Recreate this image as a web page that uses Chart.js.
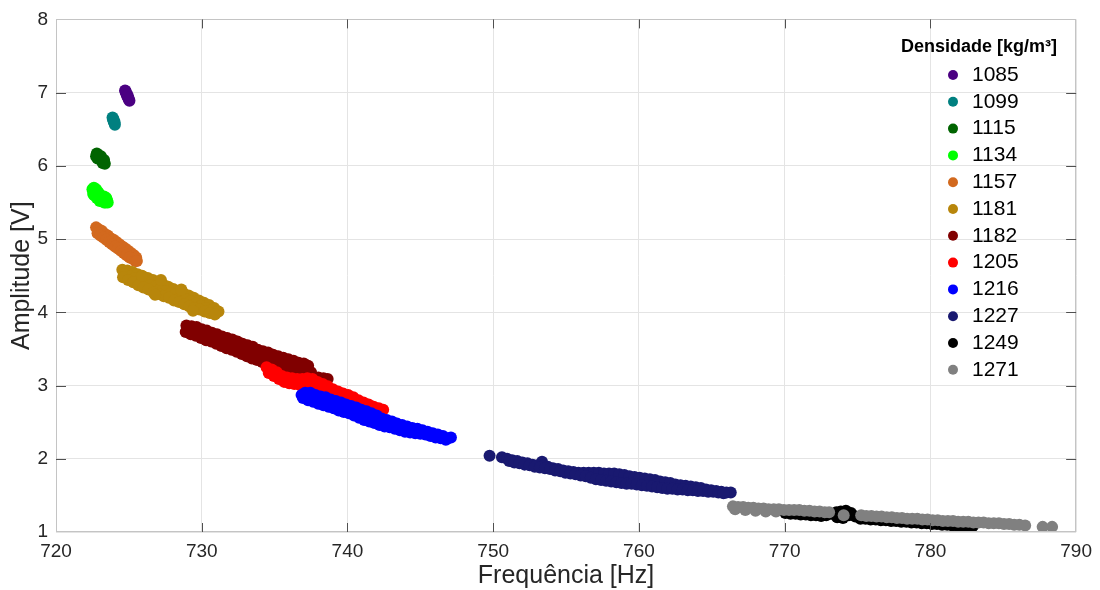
<!DOCTYPE html>
<html lang="pt">
<head>
<meta charset="utf-8">
<title>Amplitude x Frequência</title>
<script src="https://cdn.jsdelivr.net/npm/chart.js@4.4.1/dist/chart.umd.min.js"></script>
<style>
  html, body { margin: 0; padding: 0; background: #ffffff; }
  #wrap { width: 1100px; height: 590px; position: relative; }
</style>
</head>
<body>
<div id="wrap"><canvas id="c" width="1100" height="590"></canvas></div>
<script>
// Densidades medidas (kg/m³) e cores de cada série
const densities = [1085, 1099, 1115, 1134, 1157, 1181, 1182, 1205, 1216, 1227, 1249, 1271];
const colors = ['#4b0082', '#008080', '#006400', '#00ff00', '#d2691e', '#b8860b',
                '#800000', '#ff0000', '#0000ff', '#191970', '#000000', '#808080'];

// Eixos
const xTickValues = [720, 730, 740, 750, 760, 770, 780, 790];
const yTickValues = [1, 2, 3, 4, 5, 6, 7, 8];
const xTitle = 'Frequência [Hz]';
const yTitle = 'Amplitude [V]';
const legendTitle = 'Densidade [kg/m³]';

// Pontos [frequência (Hz), amplitude (V)] de cada densidade
const pts1085 = [[724.74,7.03],[724.78,7.02],[724.80,7.00],[724.85,6.97],[724.90,6.95],[724.92,6.96],
  [724.95,6.93],[725.00,6.91],[725.04,6.89]];
const pts1099 = [[723.88,6.66],[723.92,6.63],[723.94,6.64],[723.96,6.61],[724.00,6.59],[724.02,6.60],[724.04,6.56]];
const pts1115 = [[722.80,6.17],[722.88,6.15],[722.90,6.12],[722.95,6.14],[723.02,6.12],[723.08,6.13],
  [723.10,6.09],[723.18,6.07],[723.20,6.04],[723.26,6.05],[723.35,6.03],[722.85,6.10],[723.30,6.08],[722.75,6.13]];
const pts1134 = [[722.50,5.68],[722.58,5.66],[722.60,5.70],[722.66,5.64],[722.62,5.60],[722.74,5.62],
  [722.75,5.68],[722.80,5.56],[722.82,5.60],[722.90,5.58],[722.90,5.64],[722.98,5.56],[723.00,5.52],
  [723.05,5.60],[723.06,5.55],[723.14,5.53],[723.20,5.57],[723.22,5.52],[723.30,5.50],[723.40,5.50],
  [723.50,5.53],[723.45,5.56],[723.30,5.58],[722.55,5.62],[723.55,5.50]];
const pts1157 = [[722.75,5.16],[722.95,5.13],[723.15,5.11],[723.35,5.07],[723.55,5.05],[723.75,5.01],
  [723.95,4.99],[724.15,4.96],[724.35,4.93],[724.55,4.90],[724.75,4.87],[724.95,4.84],[725.15,4.81],
  [725.35,4.78],[725.50,4.75],[722.85,5.08],[723.05,5.05],[723.25,5.02],[723.45,4.99],[723.65,4.96],
  [723.85,4.93],[724.05,4.90],[724.25,4.87],[724.45,4.84],[724.65,4.81],[724.85,4.78],[725.05,4.75],
  [725.25,4.73],[725.45,4.70],[725.55,4.70]];
const pts1181 = [[724.55,4.58],[724.90,4.57],[725.25,4.55],[725.60,4.52],[725.95,4.49],[726.30,4.47],
  [726.65,4.44],[727.00,4.41],[727.35,4.38],[727.70,4.35],[728.05,4.32],[728.40,4.29],[728.75,4.26],
  [729.10,4.23],[729.45,4.20],[729.80,4.16],[730.15,4.13],[730.50,4.10],[730.85,4.06],[731.15,4.01],
  [724.70,4.52],[725.05,4.49],[725.40,4.47],[725.75,4.43],[726.10,4.41],[726.45,4.37],[726.80,4.35],
  [727.15,4.32],[727.50,4.29],[727.85,4.26],[728.20,4.24],[728.55,4.20],[728.90,4.18],[729.25,4.15],
  [729.60,4.12],[729.95,4.09],[730.30,4.06],[730.65,4.03],[731.00,4.00],
  [724.60,4.48],[724.95,4.44],[725.30,4.41],[725.65,4.37],[726.00,4.34],[726.35,4.31],[726.70,4.27],
  [727.05,4.25],[727.40,4.22],[727.75,4.20],[728.10,4.16],[728.45,4.14],[728.80,4.11],[729.15,4.08],
  [729.50,4.06],[729.85,4.04],[730.20,4.01],[730.55,3.99],[730.90,3.97],
  [725.90,4.50],[727.20,4.44],[728.60,4.31],[726.80,4.24],[729.40,4.02]];
const pts1182 = [[728.95,3.82],[729.30,3.81],[729.65,3.80],[730.00,3.77],[730.35,3.75],[730.70,3.72],
  [731.05,3.70],[731.40,3.67],[731.75,3.65],[732.10,3.63],[732.45,3.60],[732.80,3.57],[733.15,3.55],
  [733.50,3.53],[733.85,3.49],[734.20,3.47],[734.55,3.45],[734.90,3.42],[735.25,3.40],[735.60,3.38],
  [735.95,3.36],[736.30,3.34],[736.65,3.31],[737.00,3.30],[737.30,3.27],
  [729.10,3.76],[729.45,3.74],[729.80,3.71],[730.15,3.69],[730.50,3.66],[730.85,3.64],[731.20,3.61],
  [731.55,3.59],[731.90,3.56],[732.25,3.54],[732.60,3.51],[732.95,3.49],[733.30,3.46],[733.65,3.44],
  [734.00,3.41],[734.35,3.39],[734.70,3.36],[735.05,3.34],[735.40,3.31],[735.75,3.29],[736.10,3.27],
  [736.45,3.25],[736.80,3.22],[737.15,3.20],[737.50,3.18],
  [728.90,3.73],[729.25,3.70],[729.60,3.68],[729.95,3.65],[730.30,3.62],[730.65,3.60],[731.00,3.57],
  [731.35,3.54],[731.70,3.51],[732.05,3.49],[732.40,3.46],[732.75,3.43],[733.10,3.40],[733.45,3.37],
  [733.80,3.35],[734.15,3.32],[734.50,3.30],[734.85,3.27],[735.20,3.25],[735.55,3.23],[735.90,3.20],
  [736.25,3.18],[736.60,3.16],[736.95,3.14],[737.30,3.13],[737.65,3.12],[738.00,3.11],[738.35,3.10],[738.64,3.09]];
const pts1205 = [[734.45,3.25],[734.80,3.22],[735.15,3.18],[735.50,3.13],[735.85,3.11],[736.20,3.10],
  [736.55,3.09],[736.90,3.09],[737.25,3.10],[737.60,3.09],[737.95,3.05],[738.30,3.02],[738.65,2.99],
  [739.00,2.95],[739.35,2.92],[739.70,2.89],[740.05,2.87],[740.40,2.84],[740.75,2.80],[741.10,2.77],
  [741.45,2.74],[741.80,2.71],[742.15,2.69],[742.45,2.67],
  [734.60,3.17],[734.95,3.13],[735.30,3.09],[735.65,3.05],[736.00,3.03],[736.35,3.02],[736.70,3.01],
  [737.05,3.00],[737.40,2.99],[737.75,2.97],[738.10,2.94],[738.45,2.91],[738.80,2.88],[739.15,2.86],
  [739.50,2.83],[739.85,2.80],[740.20,2.78],[740.55,2.75],[740.90,2.72],[741.25,2.70],[741.60,2.67],[741.95,2.65]];
const pts1216 = [[736.85,2.87],[737.10,2.90],[737.45,2.90],[737.80,2.87],[738.15,2.85],[738.50,2.84],
  [738.85,2.81],[739.20,2.79],[739.55,2.77],[739.90,2.74],[740.25,2.72],[740.60,2.70],[740.95,2.67],
  [741.30,2.65],[741.65,2.62],[742.00,2.59],[742.35,2.55],[742.70,2.53],[743.05,2.51],[743.40,2.48],
  [743.75,2.46],[744.10,2.44],[744.45,2.42],[744.80,2.41],[745.15,2.39],[745.50,2.37],[745.85,2.35],
  [746.20,2.33],[746.55,2.31],[746.90,2.28],[747.10,2.29],
  [736.95,2.83],[737.30,2.80],[737.65,2.78],[738.00,2.75],[738.35,2.73],[738.70,2.71],[739.05,2.69],
  [739.40,2.66],[739.75,2.64],[740.10,2.62],[740.45,2.59],[740.80,2.56],[741.15,2.53],[741.50,2.51],
  [741.85,2.49],[742.20,2.46],[742.55,2.44],[742.90,2.43],[743.25,2.41],[743.60,2.39],[743.95,2.37],
  [744.30,2.36],[744.65,2.35],[745.00,2.34],[745.35,2.33],[745.70,2.31],[746.05,2.29],[746.40,2.28],[746.75,2.26]];
const pts1227 = [[749.75,2.04],[753.35,1.96],
  [750.60,2.02],[750.95,2.00],[751.30,1.98],[751.65,1.97],[752.00,1.95],[752.35,1.94],[752.70,1.92],
  [753.05,1.91],[753.40,1.90],[753.75,1.89],[754.10,1.87],[754.45,1.86],[754.80,1.84],[755.15,1.83],
  [755.50,1.82],[755.85,1.81],[756.20,1.81],[756.55,1.81],[756.90,1.81],[757.25,1.81],[757.60,1.80],
  [757.95,1.80],[758.30,1.80],[758.65,1.79],[759.00,1.78],[759.35,1.76],[759.70,1.75],[760.05,1.74],
  [760.40,1.73],[760.75,1.72],[761.10,1.71],[761.45,1.69],[761.80,1.68],[762.15,1.67],[762.50,1.65],
  [762.85,1.64],[763.20,1.63],[763.55,1.62],[763.90,1.61],[764.25,1.60],[764.60,1.58],[764.95,1.57],
  [765.30,1.56],[765.65,1.55],[766.00,1.54],[766.30,1.54],
  [751.10,1.97],[751.45,1.95],[751.80,1.94],[752.15,1.92],[752.50,1.91],[752.85,1.89],[753.20,1.88],
  [753.55,1.87],[753.90,1.86],[754.25,1.84],[754.60,1.83],[754.95,1.81],[755.30,1.80],[755.65,1.79],
  [756.00,1.77],[756.35,1.76],[756.70,1.74],[757.05,1.72],[757.40,1.71],[757.75,1.70],[758.10,1.69],
  [758.45,1.68],[758.80,1.67],[759.15,1.66],[759.50,1.66],[759.85,1.65],[760.20,1.64],[760.55,1.63],
  [760.90,1.62],[761.25,1.61],[761.60,1.60],[761.95,1.59],[762.30,1.59],[762.65,1.58],[763.00,1.58],
  [763.35,1.57],[763.70,1.57],[764.05,1.56],[764.40,1.56],[764.75,1.55],[765.10,1.55],[765.45,1.54],[765.80,1.53]];
const pts1249 = [[770.05,1.26],[770.40,1.25],[770.75,1.25],[771.10,1.24],[771.45,1.24],[771.80,1.23],
  [772.15,1.23],[772.50,1.22],[772.85,1.23],[773.20,1.25],[773.55,1.27],[773.85,1.28],[774.20,1.29],
  [774.55,1.26],[774.85,1.21],[773.60,1.20],[774.00,1.19],[774.40,1.23],[775.20,1.18],[775.55,1.18],
  [775.90,1.17],[776.25,1.17],[776.60,1.16],[776.95,1.16],[777.30,1.15],[777.65,1.15],[778.00,1.14],
  [778.35,1.14],[778.70,1.13],[779.05,1.13],[779.40,1.12],[779.75,1.12],[780.10,1.11],[780.45,1.11],
  [780.80,1.10],[781.15,1.10],[781.50,1.09],[781.85,1.09],[782.20,1.08],[782.55,1.08],[782.90,1.08]];
const pts1271 = [[766.45,1.35],[766.80,1.34],[767.15,1.34],[767.50,1.33],[767.85,1.33],[768.20,1.32],
  [768.55,1.32],[768.90,1.31],[769.25,1.31],[769.60,1.31],[769.95,1.30],[770.30,1.30],[770.65,1.30],
  [771.00,1.30],[771.35,1.29],[771.70,1.29],[772.05,1.28],[772.40,1.28],[772.75,1.27],[773.05,1.27],
  [774.05,1.23],[775.25,1.23],[775.60,1.22],[775.95,1.22],[776.30,1.21],[776.65,1.21],[777.00,1.20],
  [777.35,1.20],[777.70,1.19],[778.05,1.19],[778.40,1.18],[778.75,1.18],[779.10,1.18],[779.45,1.17],
  [779.80,1.17],[780.15,1.16],[780.50,1.16],[780.85,1.15],[781.20,1.15],[781.55,1.15],[781.90,1.14],
  [782.25,1.14],[782.60,1.14],[782.95,1.13],[783.30,1.13],[783.65,1.13],[784.00,1.12],[784.35,1.12],
  [784.70,1.12],[785.05,1.11],[785.40,1.11],[785.75,1.10],[786.10,1.10],[786.50,1.09],[787.70,1.07],
  [788.35,1.07],[766.60,1.31],[767.30,1.30],[768.00,1.29],[768.70,1.28],[769.40,1.28]];

const series = [pts1085, pts1099, pts1115, pts1134, pts1157, pts1181,
                pts1182, pts1205, pts1216, pts1227, pts1249, pts1271];

const FONT = '"Liberation Sans", Arial, Helvetica, sans-serif';

// Moldura da área do gráfico com marcas de escala para dentro (nos quatro lados)
const boxFrame = {
  id: 'boxFrame',
  afterDatasetsDraw(chart) {
    const { ctx: c, chartArea: a, scales: { x, y } } = chart;
    c.save();
    c.lineWidth = 1;
    c.strokeStyle = '#c4c4c4';
    c.strokeRect(Math.round(a.left) + 0.5, Math.round(a.top) + 0.5,
                 Math.round(a.right - a.left) - 1, Math.round(a.bottom - a.top) - 1);
    c.strokeStyle = '#505050';
    c.beginPath();
    x.ticks.forEach(t => {
      if (t.value <= x.min || t.value >= x.max) return;
      const px = Math.round(x.getPixelForValue(t.value)) + 0.5;
      c.moveTo(px, a.bottom); c.lineTo(px, a.bottom - 9);
      c.moveTo(px, a.top); c.lineTo(px, a.top + 9);
    });
    y.ticks.forEach(t => {
      if (t.value <= y.min || t.value >= y.max) return;
      const py = Math.round(y.getPixelForValue(t.value)) + 0.5;
      c.moveTo(a.left, py); c.lineTo(a.left + 10, py);
      c.moveTo(a.right, py); c.lineTo(a.right - 10, py);
    });
    c.stroke();
    c.restore();
  }
};

// Legenda em coluna no canto superior direito, sem caixa
const legendLayout = { titleX: 1057, titleY: 47, markerX: 953, textX: 972, firstY: 75, step: 26.8 };
const densityLegend = {
  id: 'densityLegend',
  afterDraw(chart) {
    const c = chart.ctx;
    const L = legendLayout;
    c.save();
    c.textBaseline = 'middle';
    c.fillStyle = '#000000';
    c.textAlign = 'right';
    c.font = 'bold 18px ' + FONT;
    c.fillText(legendTitle, L.titleX, L.titleY);
    c.textAlign = 'left';
    c.font = '21px ' + FONT;
    chart.data.datasets.forEach((ds, i) => {
      const yy = L.firstY + i * L.step;
      c.beginPath();
      c.arc(L.markerX, yy, 5, 0, Math.PI * 2);
      c.fillStyle = ds.backgroundColor;
      c.fill();
      c.fillStyle = '#000000';
      c.fillText(ds.label, L.textX, yy);
    });
    c.restore();
  }
};

const datasets = densities.map((d, i) => ({
  label: String(d),
  data: series[i].map(([f, a]) => ({ x: f, y: a })),
  backgroundColor: colors[i],
  borderColor: colors[i],
  borderWidth: 0,
  pointRadius: 6,
  pointHoverRadius: 6,
  order: densities.length - i   // séries seguintes desenhadas por cima
}));

new Chart(document.getElementById('c'), {
  type: 'scatter',
  data: { datasets },
  options: {
    responsive: false,
    animation: false,
    devicePixelRatio: 1,
    events: [],
    layout: { padding: { left: 0, top: 18, right: 23, bottom: 0 } },
    plugins: { legend: { display: false }, tooltip: { enabled: false } },
    scales: {
      x: {
        type: 'linear',
        min: xTickValues[0],
        max: xTickValues[xTickValues.length - 1],
        afterBuildTicks(s) { s.ticks = xTickValues.map(v => ({ value: v })); },
        afterFit(s) { s.height = 58; },
        ticks: { color: '#262626', font: { family: FONT, size: 19 }, padding: 8, maxRotation: 0 },
        grid: { color: '#e4e4e4', drawTicks: false },
        border: { display: false },
        title: { display: true, text: xTitle, color: '#262626',
                 font: { family: FONT, size: 25, lineHeight: 1 }, padding: { top: 0, bottom: 1 } }
      },
      y: {
        type: 'linear',
        min: yTickValues[0],
        max: yTickValues[yTickValues.length - 1],
        afterBuildTicks(s) { s.ticks = yTickValues.map(v => ({ value: v })); },
        afterFit(s) { s.width = 56; },
        ticks: { color: '#262626', font: { family: FONT, size: 19 }, padding: 8 },
        grid: { color: '#e4e4e4', drawTicks: false },
        border: { display: false },
        title: { display: true, text: yTitle, color: '#262626',
                 font: { family: FONT, size: 25, lineHeight: 1 }, padding: { top: 10, bottom: 0 } }
      }
    }
  },
  plugins: [boxFrame, densityLegend]
});
</script>
</body>
</html>
